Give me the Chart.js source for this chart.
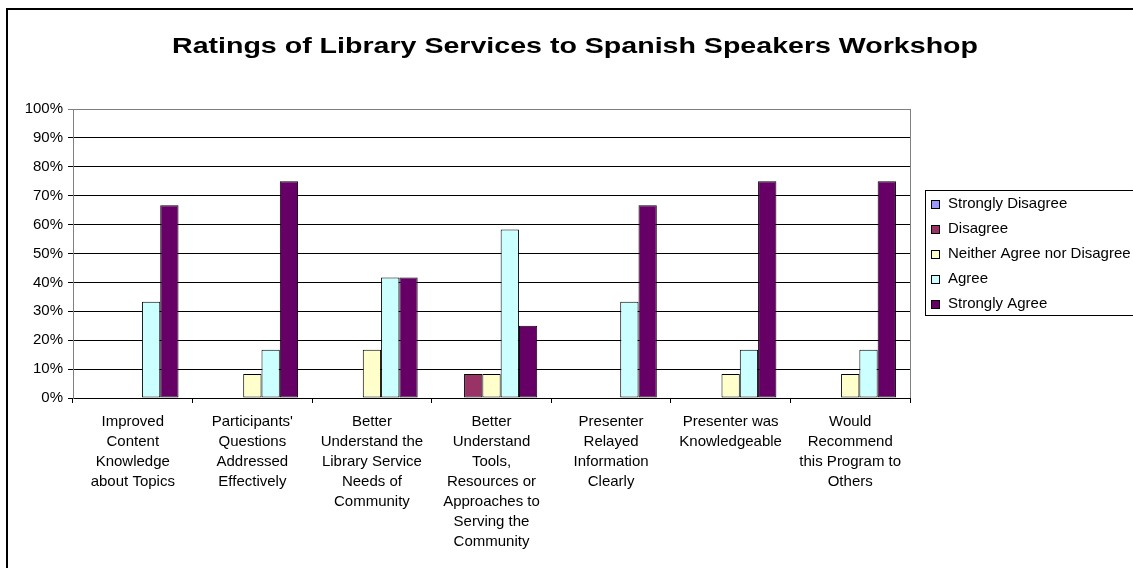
<!DOCTYPE html>
<html>
<head>
<meta charset="utf-8">
<script src="https://cdn.jsdelivr.net/npm/chart.js@4"></script>
<style>
  html, body { margin: 0; padding: 0; background: #fff; }
  #wrap { width: 1133px; height: 568px; }
</style>
</head>
<body>
<div id="wrap"><canvas id="ratingsChart" width="1133" height="568"></canvas></div>
<script>
// Chart data
const chartTitle = 'Ratings of Library Services to Spanish Speakers Workshop';
const categories = [
    ['Improved', 'Content', 'Knowledge', 'about Topics'],
    ["Participants'", 'Questions', 'Addressed', 'Effectively'],
    ['Better', 'Understand the', 'Library Service', 'Needs of', 'Community'],
    ['Better', 'Understand', 'Tools,', 'Resources or', 'Approaches to', 'Serving the', 'Community'],
    ['Presenter', 'Relayed', 'Information', 'Clearly'],
    ['Presenter was', 'Knowledgeable'],
    ['Would', 'Recommend', 'this Program to', 'Others']
];
const seriesNames = ['Strongly Disagree', 'Disagree', 'Neither Agree nor Disagree', 'Agree', 'Strongly Agree'];
const stronglyDisagree = [0, 0, 0, 0, 0, 0, 0];
const disagree = [0, 0, 0, 8.3, 0, 0, 0];
const neither = [0, 8.3, 16.7, 8.3, 0, 8.3, 8.3];
const agree = [33.3, 16.7, 41.7, 58.3, 33.3, 16.7, 16.7];
const stronglyAgree = [66.7, 75, 41.7, 25, 66.7, 75, 75];
const seriesColors = ['#9999FF', '#993366', '#FFFFCC', '#CCFFFF', '#660066'];
const yTicks = [0, 10, 20, 30, 40, 50, 60, 70, 80, 90, 100];

const FONT = '"Liberation Sans", Arial, sans-serif';

// Frame, title and boxed legend (Excel style)
const excelDecor = {
    id: 'excelDecor',
    afterDraw(chart) {
        const ctx = chart.ctx;
        const area = chart.chartArea;
        ctx.save();

        // outer frame: only left and top edges are visible
        ctx.fillStyle = '#000';
        ctx.fillRect(6, 8, 2, 560);
        ctx.fillRect(6, 8, 1127, 2);

        // plot area right edge
        ctx.strokeStyle = '#808080';
        ctx.lineWidth = 1;
        ctx.beginPath();
        ctx.moveTo(Math.round(area.right) + 0.5, area.top);
        ctx.lineTo(Math.round(area.right) + 0.5, area.bottom);
        ctx.stroke();

        // title, stretched to the width it has in the reference
        ctx.font = 'bold 22px ' + FONT;
        ctx.fillStyle = '#000';
        ctx.textBaseline = 'alphabetic';
        ctx.textAlign = 'left';
        const w = ctx.measureText(chartTitle).width;
        const targetW = 806;
        ctx.save();
        ctx.translate(172, 53);
        ctx.scale(targetW / w, 1);
        ctx.fillText(chartTitle, 0, 0);
        ctx.restore();

        // legend
        const lx = 925.5, ly = 190.5;
        ctx.strokeStyle = '#000';
        ctx.strokeRect(lx, ly, 300, 125);
        ctx.font = '15px ' + FONT;
        ctx.textBaseline = 'middle';
        chart.data.datasets.forEach((ds, i) => {
            const cy = 204 + i * 25;
            ctx.fillStyle = ds.backgroundColor;
            ctx.fillRect(931, cy - 4, 9, 9);
            ctx.strokeStyle = '#000';
            ctx.strokeRect(931.5, cy - 3.5, 8, 8);
            ctx.fillStyle = '#000';
            ctx.fillText(ds.label, 948, cy);
        });
        ctx.restore();
    }
};

function initChart() {
    const seriesData = [stronglyDisagree, disagree, neither, agree, stronglyAgree];
    const ctx = document.getElementById('ratingsChart').getContext('2d');

    new Chart(ctx, {
        type: 'bar',
        data: {
            labels: categories,
            datasets: seriesNames.map((name, i) => ({
                label: name,
                data: seriesData[i],
                backgroundColor: seriesColors[i],
                borderColor: '#000',
                borderWidth: (c) => (c.raw ? 1 : 0),
                borderSkipped: false,
                categoryPercentage: 0.765,
                barPercentage: 1
            }))
        },
        options: {
            responsive: false,
            animation: false,
            events: [],
            layout: { padding: { left: 0, right: 223, top: 109, bottom: 0 } },
            plugins: {
                legend: { display: false },
                title: { display: false },
                tooltip: { enabled: false }
            },
            scales: {
                x: {
                    afterFit: (scale) => { scale.height = 170; },
                    border: { color: '#000', width: 1 },
                    grid: {
                        drawOnChartArea: false,
                        drawTicks: true,
                        tickLength: 5,
                        color: '#000'
                    },
                    ticks: {
                        color: '#000',
                        padding: 9,
                        maxRotation: 0,
                        autoSkip: false,
                        font: { family: FONT, size: 15, lineHeight: 1.333 }
                    }
                },
                y: {
                    min: 0,
                    max: 100,
                    afterFit: (scale) => { scale.width = 73; },
                    afterBuildTicks: (scale) => {
                        scale.ticks = yTicks.map((v) => ({ value: v }));
                    },
                    border: { color: '#808080', width: 1 },
                    grid: {
                        color: (c) => (c.tick && c.tick.value === 100 ? '#808080' : '#000'),
                        tickLength: 5,
                        lineWidth: 1
                    },
                    ticks: {
                        color: '#000',
                        padding: 5,
                        font: { family: FONT, size: 15 },
                        callback: (v) => v + '%'
                    }
                }
            }
        },
        plugins: [excelDecor]
    });
}

document.addEventListener('DOMContentLoaded', initChart);
</script>
</body>
</html>
